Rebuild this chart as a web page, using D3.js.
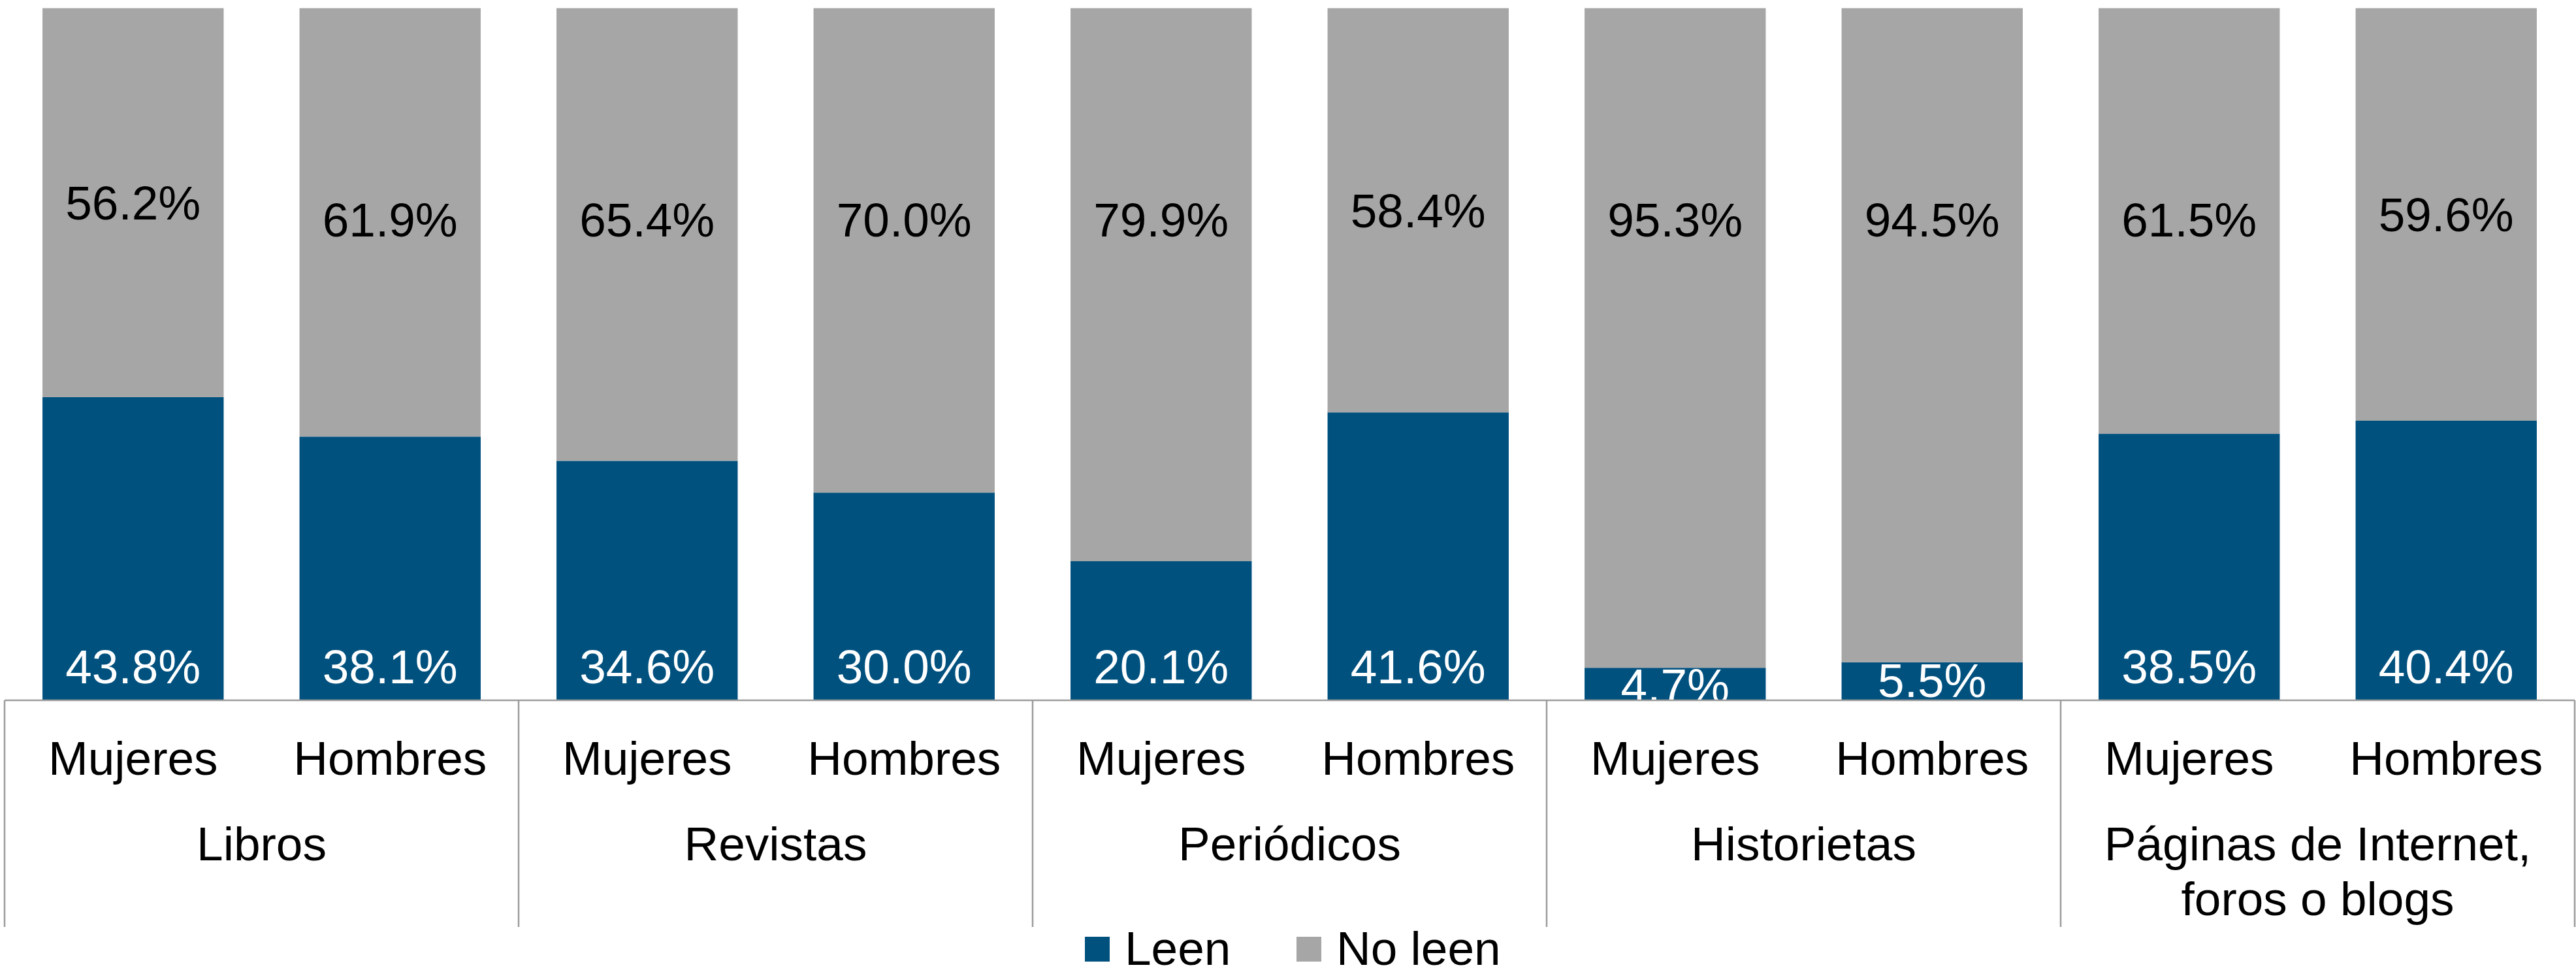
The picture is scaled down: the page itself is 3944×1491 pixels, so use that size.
<!DOCTYPE html>
<html>
<head>
<meta charset="utf-8">
<script src="https://cdn.jsdelivr.net/npm/d3@7"></script>
<style>
  body { margin: 0; background: #fff; }
  text { font-family: "Liberation Sans", Arial, sans-serif; }
</style>
</head>
<body>
<div id="chart"></div>
<script>
var groups = ["Libros", "Revistas", "Periódicos", "Historietas", "Páginas de Internet,\nforos o blogs"];
var sexes = ["Mujeres", "Hombres"];
var leen = [43.8, 38.1, 34.6, 30.0, 20.1, 41.6, 4.7, 5.5, 38.5, 40.4];
var noLeen = [56.2, 61.9, 65.4, 70.0, 79.9, 58.4, 95.3, 94.5, 61.5, 59.6];
var seriesNames = ["Leen", "No leen"];
var colors = ["#01517F", "#A6A6A6"];

var svgWidth = 3944;
var svgHeight = 1491;

var margin = { top: 12.5, left: 7, right: 2, bottom: 419 };
var width = svgWidth - margin.left - margin.right;
var height = svgHeight - margin.top - margin.bottom;

var svg = d3.select("#chart")
  .append("svg")
  .attr("width", svgWidth)
  .attr("height", svgHeight);

var chart = svg.append("g")
  .attr("transform", `translate(${margin.left}, ${margin.top})`);

// one row per bar
var rows = [];
groups.forEach(function(g, gi) {
  sexes.forEach(function(s, si) {
    var i = gi * 2 + si;
    rows.push({ key: gi + "|" + s, group: g, sex: s, leen: leen[i], noLeen: noLeen[i] });
  });
});

var x = d3.scaleBand()
  .domain(rows.map(d => d.key))
  .range([0, width])
  .paddingInner(0.295)
  .paddingOuter(0.1475);

var xGroup = d3.scaleBand()
  .domain(groups)
  .range([0, width]);

var y = d3.scaleLinear()
  .domain([0, 100])
  .range([height, 0]);

chart.append("clipPath")
  .attr("id", "plotclip")
  .append("rect")
  .attr("x", 0).attr("y", 0)
  .attr("width", width).attr("height", height);

var stack = d3.stack().keys(["leen", "noLeen"]);
var series = stack(rows);

var layers = chart.selectAll("g.layer")
  .data(series)
  .enter()
  .append("g")
  .attr("class", "layer")
  .attr("fill", (d, i) => colors[i]);

layers.selectAll("rect")
  .data(d => d)
  .enter()
  .append("rect")
  .attr("x", d => x(d.data.key))
  .attr("y", d => y(d[1]))
  .attr("width", x.bandwidth())
  .attr("height", d => y(d[0]) - y(d[1]));

var fmt = d => d3.format(".1f")(d) + "%";
var labels = chart.append("g").attr("clip-path", "url(#plotclip)");

// Leen labels sit near the base, or at the bar top when the bar is short
labels.selectAll("text.leen")
  .data(rows)
  .enter()
  .append("text")
  .attr("class", "leen")
  .attr("x", d => x(d.key) + x.bandwidth() / 2)
  .attr("y", d => Math.max(height - 79, y(d.leen)) + 53)
  .attr("text-anchor", "middle")
  .attr("font-size", "73px")
  .attr("fill", "#fff")
  .text(d => fmt(d.leen));

labels.selectAll("text.noleen")
  .data(rows)
  .enter()
  .append("text")
  .attr("class", "noleen")
  .attr("x", d => x(d.key) + x.bandwidth() / 2)
  .attr("y", d => Math.min((y(100) + y(d.leen)) / 2, y(69.5)) + 26)
  .attr("text-anchor", "middle")
  .attr("font-size", "73px")
  .attr("fill", "#000")
  .text(d => fmt(d.noLeen));

// inner axis: Mujeres / Hombres
var xAxis = d3.axisBottom(x)
  .tickSize(0)
  .tickPadding(0)
  .tickFormat(k => k.split("|")[1]);

var axisG = chart.append("g")
  .attr("transform", `translate(0, ${height})`)
  .call(xAxis);
axisG.select(".domain").remove();
axisG.selectAll("text")
  .attr("y", 114)
  .attr("dy", null)
  .attr("font-size", "73px")
  .attr("font-family", "Liberation Sans, Arial, sans-serif")
  .attr("fill", "#000");

// group labels
var groupLabels = chart.append("g")
  .selectAll("text")
  .data(groups)
  .enter()
  .append("text")
  .attr("x", d => xGroup(d) + xGroup.bandwidth() / 2)
  .attr("y", height + 245)
  .attr("text-anchor", "middle")
  .attr("font-size", "73px")
  .attr("fill", "#000");

groupLabels.selectAll("tspan")
  .data(d => d.split("\n"))
  .enter()
  .append("tspan")
  .attr("x", function() { return d3.select(this.parentNode).attr("x"); })
  .attr("dy", (d, i) => i === 0 ? 0 : 84)
  .text(d => d);

// baseline and group separators
chart.append("line")
  .attr("x1", 0).attr("x2", width)
  .attr("y1", height).attr("y2", height)
  .attr("stroke", "#9C9C9C")
  .attr("stroke-width", 2.5);

var bounds = groups.map(g => xGroup(g)).concat([width]);
chart.selectAll("line.sep")
  .data(bounds)
  .enter()
  .append("line")
  .attr("class", "sep")
  .attr("x1", d => d).attr("x2", d => d)
  .attr("y1", height).attr("y2", height + 347)
  .attr("stroke", "#9C9C9C")
  .attr("stroke-width", 2.5);

// legend
var legend = svg.append("g")
  .attr("transform", "translate(1661, 1434)");

var legendX = [0, 324];
var items = legend.selectAll("g")
  .data(seriesNames)
  .enter()
  .append("g")
  .attr("transform", (d, i) => `translate(${legendX[i]}, 0)`);

items.append("rect")
  .attr("width", 38)
  .attr("height", 38)
  .attr("fill", (d, i) => colors[i]);

items.append("text")
  .attr("x", 61)
  .attr("y", 43)
  .attr("font-size", "73px")
  .attr("fill", "#000")
  .text(d => d);
</script>
</body>
</html>
